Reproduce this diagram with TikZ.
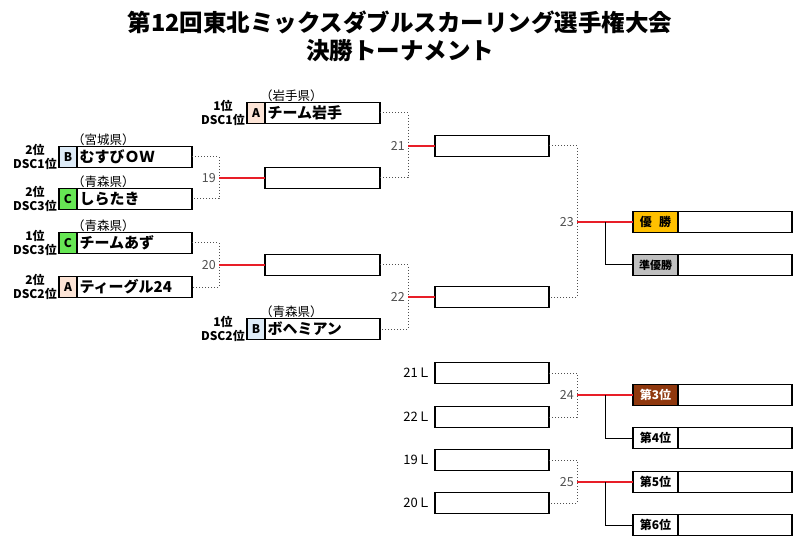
\documentclass[tikz,border=0pt]{standalone}
\usepackage{fontspec}
\newfontfamily\jpfont{Noto Sans CJK JP}
\usetikzlibrary{positioning,calc}
\definecolor{seedA}{RGB}{252,228,214}
\definecolor{seedB}{RGB}{221,235,247}
\definecolor{seedC}{RGB}{102,230,84}
\definecolor{winGold}{RGB}{255,192,0}
\definecolor{runnerGray}{RGB}{191,191,191}
\definecolor{thirdBrown}{RGB}{143,56,14}
\definecolor{matchRed}{RGB}{232,30,40}
\definecolor{bracketGray}{RGB}{80,80,80}
\tikzset{
  box/.style={draw, line width=1.8pt, outer sep=0pt, inner sep=0pt, anchor=west, minimum height=21pt},
  teambox/.style={box, minimum width=115pt, text width=110pt, align=left, font=\jpfont\bfseries\fontsize{15}{15}\selectfont},
  seedbox/.style={box, minimum width=18pt, font=\jpfont\bfseries\fontsize{12}{12}\selectfont},
  resbox/.style={box, minimum width=114pt},
  placebox/.style={box, minimum width=45pt, font=\jpfont\bfseries\fontsize{12}{12}\selectfont},
  rank/.style={align=center, inner sep=1pt, font=\jpfont\bfseries\fontsize{12}{14}\selectfont},
  pref/.style={anchor=south west, inner sep=0pt, font=\jpfont\fontsize{12.5}{12.5}\selectfont},
  matchno/.style={text=bracketGray, inner sep=3pt, font=\jpfont\fontsize{12.5}{12.5}\selectfont},
  loser/.style={inner sep=2pt, font=\jpfont\fontsize{13}{13}\selectfont},
  dots/.style={bracketGray, dotted, line width=1pt},
  winline/.style={matchRed, line width=1.5pt},
  placeline/.style={black, line width=1pt}
}
\begin{document}
\begin{tikzpicture}[x=1pt,y=-1pt]
  \useasboundingbox (0,0) rectangle (800,545);
  % Title
  \node[align=center, font=\jpfont\bfseries\fontsize{23.5}{28}\selectfont] (title) at (400,36) {第12回東北ミックスダブルスカーリング選手権大会\\決勝トーナメント};
  % First round, left column
  \node[seedbox, fill=seedB] (sqMusubi) at (59,157) {B};
  \node[teambox, right=0pt of sqMusubi] (musubi) {むすびＯＷ};
  \node[rank, left=1pt of sqMusubi] (rkMusubi) {2位\\DSC1位};
  \node[pref] (pfMusubi) at ($(musubi.north west)+(-5,-1)$) {（宮城県）};
  \node[seedbox, fill=seedC] (sqShira) at (59,199) {C};
  \node[teambox, right=0pt of sqShira] (shira) {しらたき};
  \node[rank, left=1pt of sqShira] (rkShira) {2位\\DSC3位};
  \node[pref] (pfShira) at ($(shira.north west)+(-5,-1)$) {（青森県）};
  \node[seedbox, fill=seedC] (sqAzu) at (59,243) {C};
  \node[teambox, right=0pt of sqAzu] (azu) {チームあず};
  \node[rank, left=1pt of sqAzu] (rkAzu) {1位\\DSC3位};
  \node[pref] (pfAzu) at ($(azu.north west)+(-5,-1)$) {（青森県）};
  \node[seedbox, fill=seedA] (sqTeegle) at (59,287) {A};
  \node[teambox, right=0pt of sqTeegle] (teegle) {ティーグル24};
  \node[rank, left=1pt of sqTeegle] (rkTeegle) {2位\\DSC2位};
  % Seeded teams
  \node[seedbox, fill=seedA] (sqIwate) at (247,113) {A};
  \node[teambox, right=0pt of sqIwate] (iwate) {チーム岩手};
  \node[rank, left=1pt of sqIwate] (rkIwate) {1位\\DSC1位};
  \node[pref] (pfIwate) at ($(iwate.north west)+(-5,-1)$) {（岩手県）};
  \node[seedbox, fill=seedB] (sqBohe) at (247,329) {B};
  \node[teambox, right=0pt of sqBohe] (bohe) {ボヘミアン};
  \node[rank, left=1pt of sqBohe] (rkBohe) {1位\\DSC2位};
  \node[pref] (pfBohe) at ($(bohe.north west)+(-5,-1)$) {（青森県）};
  % Winners' boxes
  \node[resbox, minimum width=115pt] (w19) at (265,178) {};
  \node[resbox, minimum width=115pt] (w20) at (265,265) {};
  \node[resbox] (w21) at (435,146) {};
  \node[resbox] (w22) at (435,297) {};
  % Matches 19 to 22
  \coordinate (j19) at ($(w19.west)+(-46,0)$);
  \draw[dots] (musubi.east) -| (j19) |- (shira.east);
  \draw[winline] (j19) -- (w19.west);
  \node[matchno, left=0pt of j19] (n19) {19};
  \coordinate (j20) at ($(w20.west)+(-46,0)$);
  \draw[dots] (azu.east) -| (j20) |- (teegle.east);
  \draw[winline] (j20) -- (w20.west);
  \node[matchno, left=0pt of j20] (n20) {20};
  \coordinate (j21) at ($(w21.west)+(-27,0)$);
  \draw[dots] (iwate.east) -| (j21) |- (w19.east);
  \draw[winline] (j21) -- (w21.west);
  \node[matchno, left=0pt of j21] (n21) {21};
  \coordinate (j22) at ($(w22.west)+(-27,0)$);
  \draw[dots] (w20.east) -| (j22) |- (bohe.east);
  \draw[winline] (j22) -- (w22.west);
  \node[matchno, left=0pt of j22] (n22) {22};
  % Final
  \node[placebox, fill=winGold] (pWin) at (633,222) {優\hspace{0.6em}勝};
  \node[resbox, right=0pt of pWin] (rWin) {};
  \node[placebox, fill=runnerGray, font=\jpfont\bfseries\fontsize{11}{11}\selectfont] (pRun) at (633,265) {準優勝};
  \node[resbox, right=0pt of pRun] (rRun) {};
  \coordinate (j23) at ($(pWin.west)+(-56,0)$);
  \coordinate (k23) at ($(pWin.west)+(-28,0)$);
  \draw[dots] (w21.east) -| (j23) |- (w22.east);
  \draw[winline] (j23) -- (pWin.west);
  \draw[placeline] (k23) |- (pRun.west);
  \node[matchno, left=0pt of j23] (n23) {23};
  % Placing matches
  \node[resbox] (l21) at (435,373) {};
  \node[loser, left=2pt of l21] (t21) {21Ｌ};
  \node[resbox] (l22) at (435,417) {};
  \node[loser, left=2pt of l22] (t22) {22Ｌ};
  \node[resbox] (l19) at (435,460) {};
  \node[loser, left=2pt of l19] (t19) {19Ｌ};
  \node[resbox] (l20) at (435,503) {};
  \node[loser, left=2pt of l20] (t20) {20Ｌ};
  \node[placebox, fill=thirdBrown, text=white] (pThird) at (633,395) {第3位};
  \node[resbox, right=0pt of pThird] (rThird) {};
  \node[placebox] (pFourth) at (633,438) {第4位};
  \node[resbox, right=0pt of pFourth] (rFourth) {};
  \node[placebox] (pFifth) at (633,482) {第5位};
  \node[resbox, right=0pt of pFifth] (rFifth) {};
  \node[placebox] (pSixth) at (633,525) {第6位};
  \node[resbox, right=0pt of pSixth] (rSixth) {};
  \coordinate (j24) at ($(pThird.west)+(-56,0)$);
  \coordinate (k24) at ($(pThird.west)+(-28,0)$);
  \draw[dots] (l21.east) -| (j24) |- (l22.east);
  \draw[winline] (j24) -- (pThird.west);
  \draw[placeline] (k24) |- (pFourth.west);
  \node[matchno, left=0pt of j24] (n24) {24};
  \coordinate (j25) at ($(pFifth.west)+(-56,0)$);
  \coordinate (k25) at ($(pFifth.west)+(-28,0)$);
  \draw[dots] (l19.east) -| (j25) |- (l20.east);
  \draw[winline] (j25) -- (pFifth.west);
  \draw[placeline] (k25) |- (pSixth.west);
  \node[matchno, left=0pt of j25] (n25) {25};
\end{tikzpicture}
\end{document}
